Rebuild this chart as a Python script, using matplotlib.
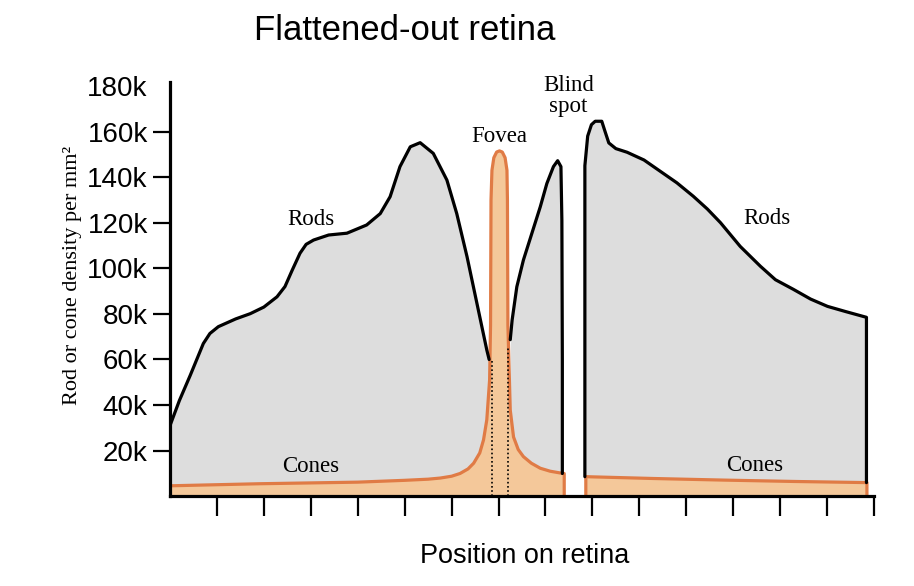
import numpy as np
from matplotlib import pyplot as plt

# rods density (thousands per mm^2), three pieces split by fovea and blind spot
rods_left_x = [0, 0.2, 0.43, 0.57, 0.71, 0.85, 1.03, 1.4, 1.71, 2.0, 2.28, 2.45, 2.6, 2.77, 2.9, 3.06,
               3.38, 3.77, 4.19, 4.48, 4.69, 4.9, 5.12, 5.33, 5.61, 5.9, 6.11, 6.33, 6.54, 6.75, 6.8]
rods_left_y = [31, 42, 53, 60, 67, 71.4, 74.4, 77.8, 80.1, 83, 87.5, 92, 99, 106.6, 110.5, 112.4,
               114.6, 115.4, 119, 124, 131.4, 144.6, 153.3, 155.1, 150.4, 138.7, 124, 105, 84.6, 64.2, 60]
rods_mid_x = [7.25, 7.29, 7.39, 7.53, 7.71, 7.89, 8.03, 8.17, 8.26, 8.33, 8.35, 8.36, 8.36]
rods_mid_y = [68.7, 77.3, 91.9, 103.6, 115.3, 127, 137.2, 144.6, 147.2, 144.6, 121, 60, 10]
rods_right_x = [8.84, 8.84, 8.9, 8.98, 9.06, 9.2, 9.27, 9.35, 9.5, 9.74, 10.1, 10.45, 10.8, 11.15,
                11.45, 11.73, 12.15, 12.58, 12.9, 13.28, 13.65, 14.01, 14.4, 14.84, 14.84]
rods_right_y = [8.6, 145, 158, 163, 164.5, 164.5, 160, 155, 152.5, 150.9, 147.5, 142.5, 137.5, 131.6,
                126, 120, 109.6, 100.9, 95, 90.8, 86.5, 83.3, 81, 78.5, 6]

# cones density
cones_left_x = [0, 1.9, 4.0, 5.0, 5.5, 5.76, 6.0, 6.18, 6.35, 6.47, 6.6, 6.68, 6.75, 6.81, 6.83, 6.84,
                6.86, 6.9, 6.96, 7.02, 7.08, 7.14, 7.18, 7.19, 7.2, 7.25, 7.32, 7.42, 7.53, 7.7, 7.89,
                8.1, 8.35, 8.40, 8.40]
cones_left_y = [4.6, 5.5, 6.2, 7.0, 7.5, 8.0, 8.8, 10, 12, 14.5, 19, 24.7, 33.5, 51, 75, 130,
                143, 148.5, 151, 151.5, 151, 148.5, 143, 130, 75, 37.8, 26, 20.5, 17.4, 14.5, 12.3,
                11, 10.1, 10, 0]
cones_right_x = [8.86, 8.86, 10.3, 11.8, 13.3, 14.85, 14.85]
cones_right_y = [0, 8.6, 7.8, 7.1, 6.5, 6.0, 0]

yticks = [20, 40, 60, 80, 100, 120, 140, 160, 180]
ytick_labels = ["20k", "40k", "60k", "80k", "100k", "120k", "140k", "160k", "180k"]
xticks = list(range(1, 16))

gray = "#dddddd"
peach = "#f4c89a"
orange = "#e07b45"

fig = plt.figure(figsize=(9.14, 5.86), dpi=100)
ax = fig.add_axes([0.186, 0.1531, 0.7702, 0.7069])

for xs, ys in [(rods_left_x, rods_left_y), (rods_mid_x, rods_mid_y), (rods_right_x, rods_right_y)]:
    ax.fill_between(xs, ys, 0, color=gray, lw=0, zorder=1)

for xs, ys in [(cones_left_x, cones_left_y), (cones_right_x, cones_right_y)]:
    ax.fill_between(xs, ys, 0, color=peach, lw=0, zorder=2)
    ax.plot(xs, ys, color=orange, lw=2.3, zorder=3, solid_joinstyle="round")

for xs, ys in [(rods_left_x, rods_left_y), (rods_mid_x, rods_mid_y), (rods_right_x, rods_right_y)]:
    ax.plot(xs, ys, color="black", lw=2.3, zorder=4, solid_joinstyle="round", solid_capstyle="round")

# dotted edges of the rod-free zone
ax.plot([6.86, 6.86], [0, 60], color="black", lw=1.2, ls=(0, (1, 1.5)), zorder=4)
ax.plot([7.21, 7.21], [0, 66], color="black", lw=1.2, ls=(0, (1, 1.5)), zorder=4)

ax.set_xlim(0, 15)
ax.set_ylim(0, 181.7)
for s in ["top", "right"]:
    ax.spines[s].set_visible(False)
for s in ["left", "bottom"]:
    ax.spines[s].set_linewidth(2.3)
    ax.spines[s].set_zorder(5)

ax.set_yticks(yticks)
ax.set_yticklabels(ytick_labels, fontfamily="Liberation Sans", fontsize=20)
ax.set_xticks(xticks)
ax.set_xticklabels([])
ax.tick_params(axis="y", length=12, width=1.6, pad=4)
ax.tick_params(axis="x", length=14.5, width=1.6)
ax.yaxis.get_major_ticks()[-1].tick1line.set_visible(False)

serif = "Liberation Serif"
ax.text(3.01, 121.6, "Rods", fontfamily=serif, fontsize=16.5, ha="center", va="center")
ax.text(12.71, 122, "Rods", fontfamily=serif, fontsize=16.5, ha="center", va="center")
ax.text(7.01, 158, "Fovea", fontfamily=serif, fontsize=16.5, ha="center", va="center")
ax.text(8.49, 175.6, "Blind\nspot", fontfamily=serif, fontsize=16.5, ha="center", va="center",
        linespacing=1.05)
ax.text(2.99, 12.9, "Cones", fontfamily=serif, fontsize=16.5, ha="center", va="center")
ax.text(12.45, 13.3, "Cones", fontfamily=serif, fontsize=16.5, ha="center", va="center")

fig.text(405 / 914, 1 - 30 / 586, "Flattened-out retina", fontfamily="Liberation Sans",
         fontsize=25, ha="center", va="center")
fig.text(525 / 914, 1 - 556 / 586, "Position on retina", fontfamily="Liberation Sans",
         fontsize=19.5, ha="center", va="center")
fig.text(72 / 914, 1 - 275 / 586, "Rod or cone density per mm²", fontfamily=serif,
         fontsize=16, rotation=90, ha="center", va="center")

fig.savefig("out.png", dpi=100)
